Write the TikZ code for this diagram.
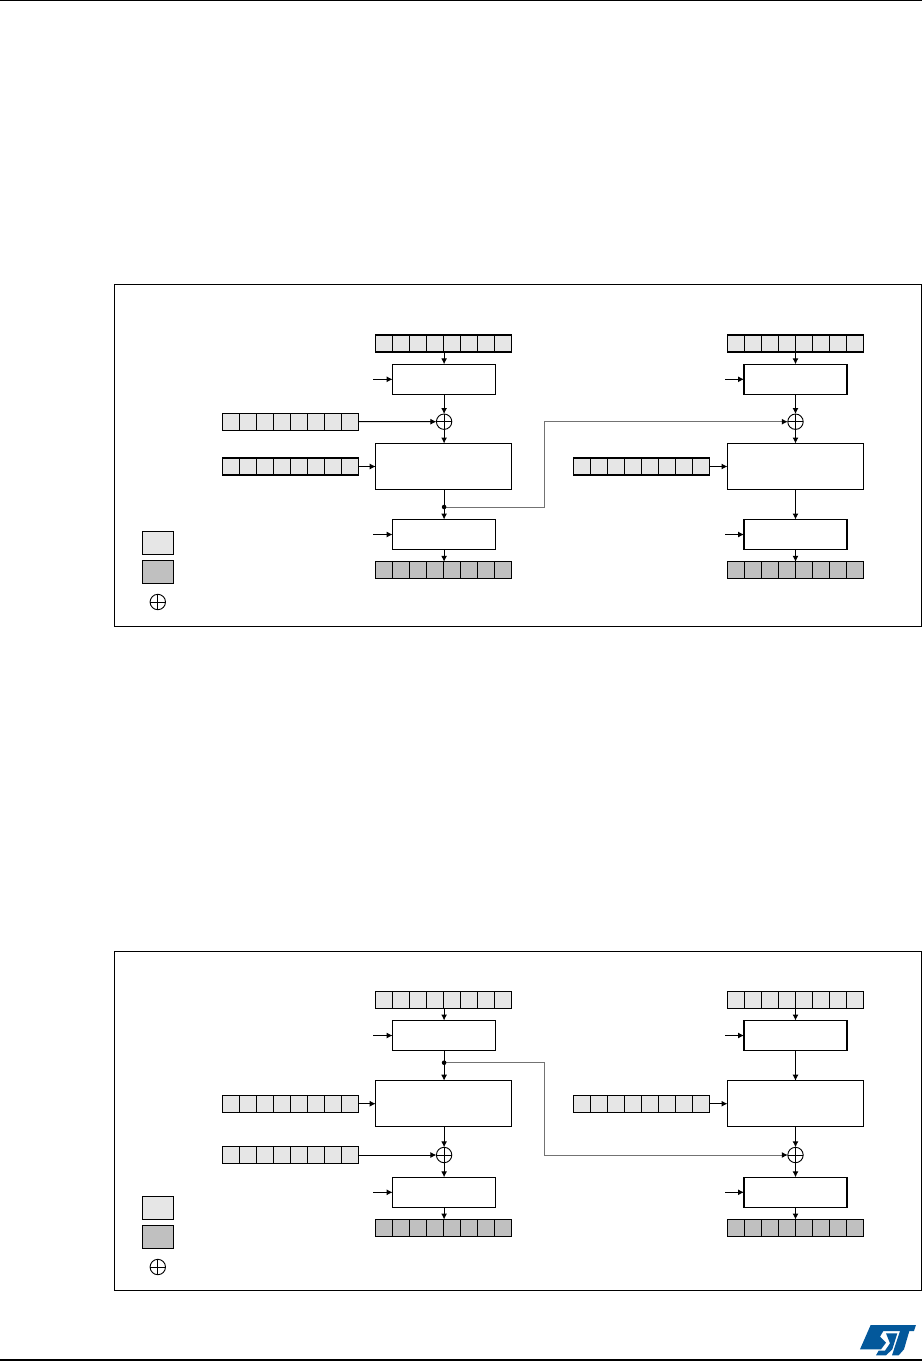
\documentclass[tikz,border=0pt]{standalone}
\usetikzlibrary{arrows.meta}
\definecolor{lightcell}{HTML}{E6E6E6}
\definecolor{darkcell}{HTML}{C0C0C0}
\definecolor{stblue}{HTML}{03589B}
\tikzset{
  every node/.style={inner sep=0pt,outer sep=0pt},
  wire/.style={line width=1pt,black,-{Latex[length=6pt,width=6pt,color=black]}},
  linkwire/.style={line width=1pt,black!55,-{Latex[length=6pt,width=6pt,color=black]}},
  plainwire/.style={line width=1pt,black},
  framebox/.style={draw=black,line width=1pt,fill=white,rectangle},
  regbox/.style={draw=black,line width=1.1pt,rectangle,minimum width=136pt,minimum height=17pt},
  smallbox/.style={draw=black,line width=1.1pt,fill=white,rectangle,minimum width=103pt,minimum height=30pt},
  bigbox/.style={draw=black,line width=1.1pt,fill=white,rectangle,minimum width=136pt,minimum height=46pt},
  keybox/.style={draw=black,line width=1pt,rectangle,minimum width=31pt,minimum height=23pt},
  xorsym/.style={draw=black,line width=.9pt,fill=white,circle,minimum size=15.4pt},
  junction/.style={fill=black,circle,minimum size=4.6pt}
}
\newcommand{\reg}[4]{%
  \node[regbox,fill=#4] (#1) at (#2,#3) {};
  \foreach \i in {1,...,7} \draw[line width=1pt] ([xshift=\i*17pt]#1.north west) -- ([xshift=\i*17pt]#1.south west);
}
\newcommand{\xorat}[3]{%
  \node[xorsym] (#1) at (#2,#3) {};
  \draw[line width=.9pt] (#1.north) -- (#1.south) (#1.west) -- (#1.east);
}
\newcommand{\legend}[2]{%
  \node[keybox,fill=lightcell] (#1a) at (157.8,#2) {};
  \node[keybox,fill=darkcell] (#1b) at (157.8,#2+29) {};
  \xorat{#1c}{157.8}{#2+59.2}
}
\begin{document}
\begin{tikzpicture}[x=1pt,y=-1pt]
\useasboundingbox (0,0) rectangle (922,1361);
\fill[white] (0,0) rectangle (922,1361);
\coordinate (ruleTL) at (0,0.6);
\coordinate (ruleTR) at (922,0.6);
\coordinate (ruleBL) at (0,1360);
\coordinate (ruleBR) at (922,1360);
\draw[line width=1.2pt] (ruleTL) -- (ruleTR);
\draw[line width=1.2pt] (ruleBL) -- (ruleBR);

% ---------- upper figure ----------
\node[framebox,minimum width=806.5pt,minimum height=341.5pt] (frameA) at (517.75,455.25) {};
\legend{legA}{542.8}

\reg{aTop}{443.7}{343.5}{lightcell}
\node[smallbox] (aBox1) at (444.1,379.3) {};
\xorat{aXor}{444.1}{421.7}
\node[bigbox] (aBig) at (443.7,466.5) {};
\node[smallbox] (aBox2) at (444.1,534.5) {};
\reg{aOut}{443.7}{570.3}{darkcell}
\reg{aIv}{290.7}{421.6}{lightcell}
\reg{aKey}{290.7}{466.5}{lightcell}
\coordinate (aIn1) at (373.3,379.3);
\coordinate (aIn2) at (373.3,534.5);
\coordinate (aBendA) at (544.7,507);
\coordinate (aBendB) at (544.7,421.7);

\reg{bTop}{795.5}{343.5}{lightcell}
\node[smallbox] (bBox1) at (795.5,379.3) {};
\xorat{bXor}{795.5}{421.7}
\node[bigbox] (bBig) at (795.5,466.5) {};
\node[smallbox] (bBox2) at (795.5,534.5) {};
\reg{bOut}{795.5}{570.3}{darkcell}
\reg{bKey}{641.7}{466.5}{lightcell}
\coordinate (bIn1) at (725,379.3);
\coordinate (bIn2) at (725,534.5);

\coordinate (aDotAt) at (444.1,507);
\draw[wire] (aTop.south -| aBox1.north) -- (aBox1.north);
\draw[wire] (aIn1) -- (aBox1.west);
\draw[wire] (aBox1.south) -- (aXor.north);
\draw[wire] (aIv.east) -- (aXor.west);
\draw[wire] (aXor.south) -- (aXor.south |- aBig.north);
\draw[wire] (aKey.east) -- (aBig.west);
\draw[plainwire] (aDotAt |- aBig.south) -- (aDotAt);
\draw[wire] (aDotAt) -- (aBox2.north);
\draw[wire] (aIn2) -- (aBox2.west);
\draw[wire] (aBox2.south) -- (aBox2.south |- aOut.north);
\draw[linkwire] (aDotAt) -- (aBendA) -- (aBendB) -- (bXor.west);
\node[junction] (aDot) at (aDotAt) {};

\draw[wire] (bTop.south) -- (bBox1.north);
\draw[wire] (bIn1) -- (bBox1.west);
\draw[wire] (bBox1.south) -- (bXor.north);
\draw[wire] (bXor.south) -- (bBig.north);
\draw[wire] (bKey.east) -- (bBig.west);
\draw[wire] (bBig.south) -- (bBox2.north);
\draw[wire] (bIn2) -- (bBox2.west);
\draw[wire] (bBox2.south) -- (bOut.north);

% ---------- lower figure ----------
\node[framebox,minimum width=806.5pt,minimum height=339pt] (frameC) at (517.75,1120.8) {};
\legend{legC}{1207.8}

\reg{cTop}{443.7}{999.8}{lightcell}
\node[smallbox] (cBox1) at (444.1,1035.5) {};
\node[bigbox] (cBig) at (443.7,1103.7) {};
\xorat{cXor}{444.1}{1155}
\node[smallbox] (cBox2) at (444.1,1192.3) {};
\reg{cOut}{443.7}{1228}{darkcell}
\reg{cKey}{290.7}{1103.7}{lightcell}
\reg{cIv}{290.7}{1155}{lightcell}
\coordinate (cIn1) at (373.3,1035.5);
\coordinate (cIn2) at (373.3,1192.3);
\coordinate (cBendA) at (544.7,1062.7);
\coordinate (cBendB) at (544.7,1155);

\reg{dTop}{795.5}{999.8}{lightcell}
\node[smallbox] (dBox1) at (795.5,1035.5) {};
\node[bigbox] (dBig) at (795.5,1103.7) {};
\xorat{dXor}{795.5}{1155}
\node[smallbox] (dBox2) at (795.5,1192.3) {};
\reg{dOut}{795.5}{1228}{darkcell}
\reg{dKey}{641.7}{1103.7}{lightcell}
\coordinate (dIn1) at (725,1035.5);
\coordinate (dIn2) at (725,1192.3);

\coordinate (cDotAt) at (444.1,1062.7);
\draw[wire] (cTop.south -| cBox1.north) -- (cBox1.north);
\draw[wire] (cIn1) -- (cBox1.west);
\draw[plainwire] (cBox1.south) -- (cDotAt);
\draw[wire] (cDotAt) -- (cDotAt |- cBig.north);
\draw[wire] (cKey.east) -- (cBig.west);
\draw[wire] (cXor.north |- cBig.south) -- (cXor.north);
\draw[wire] (cIv.east) -- (cXor.west);
\draw[wire] (cXor.south) -- (cBox2.north);
\draw[wire] (cIn2) -- (cBox2.west);
\draw[wire] (cBox2.south) -- (cBox2.south |- cOut.north);
\draw[linkwire] (cDotAt) -- (cBendA) -- (cBendB) -- (dXor.west);
\node[junction] (cDot) at (cDotAt) {};

\draw[wire] (dTop.south) -- (dBox1.north);
\draw[wire] (dIn1) -- (dBox1.west);
\draw[wire] (dBox1.south) -- (dBig.north);
\draw[wire] (dKey.east) -- (dBig.west);
\draw[wire] (dBig.south) -- (dXor.north);
\draw[wire] (dXor.south) -- (dBox2.north);
\draw[wire] (dIn2) -- (dBox2.west);
\draw[wire] (dBox2.south) -- (dOut.north);

% ---------- logo ----------
\begin{scope}[shift={(780,1290)},x=.3333pt,y=-.3333pt]
\fill[stblue] (272,105) -- (408,105) -- (402,123) -- (310,123) -- (300,140) -- (318,158) -- (303,178) -- (240,178) -- cycle;
\fill[stblue] (318,130) -- (352,130) -- (337,178) -- (318,196) -- (288,196) -- (296,182) -- (315,182) -- (330,160) -- cycle;
\fill[stblue] (360,123) -- (388,123) -- (372,178) -- (356,196) -- (336,196) -- cycle;
\end{scope}
\end{tikzpicture}
\end{document}
